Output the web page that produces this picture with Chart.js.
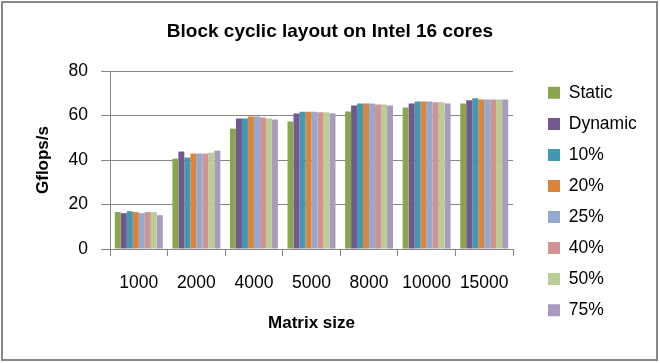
<!DOCTYPE html>
<html>
<head>
<meta charset="utf-8">
<script src="https://cdn.jsdelivr.net/npm/chart.js@4"></script>
<style>
  html, body { margin: 0; padding: 0; background: #fff; }
  #wrap { width: 660px; height: 363px; }
</style>
</head>
<body>
<div id="wrap"><canvas id="c" width="660" height="363"></canvas></div>
<script>
const categories = ['1000', '2000', '4000', '5000', '8000', '10000', '15000'];
const seriesNames = ['Static', 'Dynamic', '10%', '20%', '25%', '40%', '50%', '75%'];
const staticVals  = [16.6, 40.6, 54.1, 57.3, 61.8, 63.6, 65.4];
const dynamicVals = [16.1, 43.8, 58.6, 60.9, 64.5, 65.4, 66.8];
const p10Vals     = [17.0, 41.1, 58.6, 61.7, 65.4, 66.3, 67.7];
const p20Vals     = [16.6, 42.9, 59.6, 61.7, 65.4, 66.3, 67.2];
const p25Vals     = [16.1, 42.9, 59.6, 61.7, 65.4, 66.3, 67.2];
const p40Vals     = [16.6, 42.9, 59.1, 61.5, 65.0, 65.9, 67.2];
const p50Vals     = [16.6, 43.3, 58.6, 61.5, 65.0, 65.9, 67.2];
const p75Vals     = [15.2, 44.2, 58.2, 61.0, 64.5, 65.4, 67.2];
const yTicks = [0, 20, 40, 60, 80];

const colors = ['#8AA54F', '#71588F', '#4198AF', '#DB843D', '#93A9CF', '#D19392', '#B9CD96', '#A99BBD'];
const allVals = [staticVals, dynamicVals, p10Vals, p20Vals, p25Vals, p40Vals, p50Vals, p75Vals];

const FONT = "'Liberation Sans', Arial, sans-serif";
const GRID = '#868686';

const PLOT_LEFT = 110, PLOT_RIGHT = 513, PLOT_BOTTOM = 249;

const borderPlugin = {
  id: 'outerBorder',
  afterDraw(chart) {
    const ctx = chart.ctx;
    ctx.save();
    ctx.strokeStyle = '#878787';
    ctx.lineWidth = 2;
    ctx.strokeRect(2, 2, 655, 358);
    ctx.restore();
  }
};

const legendPlace = {
  id: 'legendPlace',
  afterLayout(chart) {
    const lg = chart.legend;
    if (!lg) return;
    const pad = lg.options.labels.padding;
    const w = lg.width;
    lg.left = 548 - pad;
    lg.right = lg.left + w;
    lg.top += 20;
    lg.bottom += 20;
  }
};

const chart = new Chart(document.getElementById('c'), {
  type: 'bar',
  data: {
    labels: categories,
    datasets: seriesNames.map((n, i) => ({
      label: n,
      data: allVals[i],
      backgroundColor: colors[i],
      borderWidth: 0,
      categoryPercentage: 0.833,
      barPercentage: 1.0
    }))
  },
  options: {
    responsive: false,
    animation: false,
    devicePixelRatio: 1,
    layout: { padding: { left: 0, right: 0, top: 0, bottom: 0 } },
    plugins: {
      title: {
        display: true,
        text: 'Block cyclic layout on Intel 16 cores',
        color: '#000',
        font: { family: FONT, size: 19, weight: 'bold', lineHeight: 1.2 },
        padding: { top: 20, bottom: 28.2 }
      },
      legend: {
        display: true,
        position: 'right',
        labels: {
          color: '#000',
          font: { family: FONT, size: 17.5, lineHeight: 1.2 },
          boxWidth: 12,
          boxHeight: 12,
          padding: 13.54
        }
      },
      tooltip: { enabled: false }
    },
    scales: {
      x: {
        grid: {
          display: true,
          offset: true,
          drawOnChartArea: false,
          drawTicks: true,
          tickLength: 7,
          color: GRID,
          lineWidth: 1
        },
        border: { display: true, color: GRID, width: 1 },
        ticks: {
          color: '#000',
          font: { family: FONT, size: 17.5 },
          padding: 16.5,
          maxRotation: 0,
          autoSkip: false
        },
        title: {
          display: true,
          text: 'Matrix size',
          color: '#000',
          font: { family: FONT, size: 17, weight: 'bold', lineHeight: 1.2 },
          padding: { top: 0, bottom: 29.8 }
        },
        afterFit(scale) { scale.height = 363 - PLOT_BOTTOM; }
      },
      y: {
        min: 0,
        max: 80,
        afterBuildTicks(scale) { scale.ticks = yTicks.map(v => ({ value: v })); },
        grid: {
          display: true,
          drawOnChartArea: true,
          drawTicks: true,
          tickLength: 9,
          color: GRID,
          lineWidth: 1
        },
        border: { display: true, color: GRID, width: 1 },
        ticks: {
          color: '#000',
          font: { family: FONT, size: 17.5 },
          padding: 13
        },
        title: {
          display: true,
          text: 'Gflops/s',
          color: '#000',
          font: { family: FONT, size: 17, weight: 'bold', lineHeight: 1.2 },
          padding: { top: 32.8, bottom: 0 }
        },
        afterFit(scale) { scale.width = PLOT_LEFT; }
      }
    }
  },
  plugins: [borderPlugin, legendPlace]
});

// make the legend box occupy exactly the space right of the plot area
const lgd = chart.legend;
const origFit = lgd.fit.bind(lgd);
lgd.fit = function () {
  origFit();
  this.width = 660 - PLOT_RIGHT;
};
chart.update();
</script>
</body>
</html>
